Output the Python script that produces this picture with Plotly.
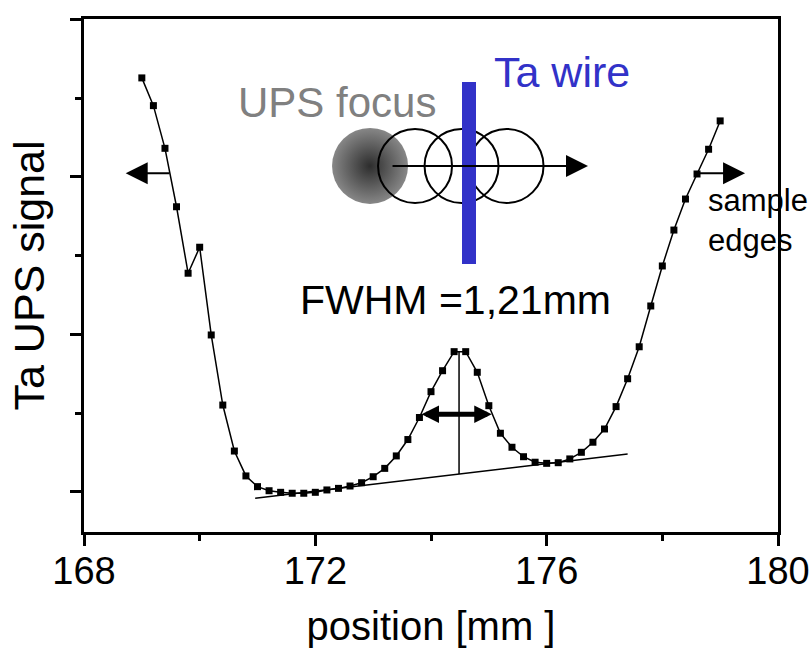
import plotly.graph_objects as go

# ---- data ----
position_mm = [169.0, 169.2, 169.4, 169.6, 169.8, 170.0, 170.2, 170.4, 170.6, 170.8,
               171.0, 171.2, 171.4, 171.6, 171.8, 172.0, 172.2, 172.4, 172.6, 172.8,
               173.0, 173.2, 173.4, 173.6, 173.8, 174.0, 174.2, 174.4, 174.6, 174.8,
               175.0, 175.2, 175.4, 175.6, 175.8, 176.0, 176.2, 176.4, 176.6, 176.8,
               177.0, 177.2, 177.4, 177.6, 177.8, 178.0, 178.2, 178.4, 178.6, 178.8,
               179.0]
ta_ups_signal = [3.629, 3.453, 3.182, 2.811, 2.389, 2.554, 1.997, 1.552, 1.260, 1.102,
                 1.034, 1.008, 0.998, 0.992, 0.992, 0.998, 1.013, 1.023, 1.038, 1.059,
                 1.097, 1.150, 1.229, 1.333, 1.473, 1.637, 1.770, 1.891, 1.891, 1.760,
                 1.548, 1.373, 1.284, 1.224, 1.189, 1.182, 1.186, 1.210, 1.252, 1.316,
                 1.400, 1.542, 1.719, 1.922, 2.181, 2.435, 2.663, 2.860, 3.019, 3.176,
                 3.356]

baseline_x = [170.96, 177.40]
baseline_y = [0.960, 1.241]
peak_line_x = [174.485, 174.485]
peak_line_y = [1.114, 1.889]
fwhm_x = [173.81, 175.05]
fwhm_y = 1.493

x_tickvals = [168, 172, 176, 180]
x_ticktext = ["168", "172", "176", "180"]

# schematic (decoration) anchors in data units
focus_center = (172.946, 3.070)
scan_circle_x = [173.724, 174.528, 175.306]
scan_circle_y = [3.070, 3.070, 3.070]
wire_x = [174.657, 174.657]
wire_y = [2.448, 3.603]
scan_arrow = (173.309, 176.715, 3.070)
left_arrow = (169.504, 168.721, 3.024)
right_arrow = (178.595, 179.430, 3.024)

FONT = "Liberation Sans, Arial, sans-serif"

fig = go.Figure()

# baseline and peak vertical line
fig.add_trace(go.Scatter(x=baseline_x, y=baseline_y, mode="lines",
                         line=dict(color="black", width=1.5), hoverinfo="skip"))
fig.add_trace(go.Scatter(x=peak_line_x, y=peak_line_y, mode="lines",
                         line=dict(color="black", width=1.5), hoverinfo="skip"))

# data
fig.add_trace(go.Scatter(x=position_mm, y=ta_ups_signal, mode="lines+markers",
                         line=dict(color="black", width=1.5),
                         marker=dict(symbol="square", size=7, color="black")))

# schematic: gradient UPS focus spot
fig.add_trace(go.Scatter(x=[focus_center[0]], y=[focus_center[1]], mode="markers",
                         marker=dict(size=76, color="rgb(135,135,135)",
                                     gradient=dict(type="radial", color="rgb(45,45,45)"),
                                     line=dict(width=0)), hoverinfo="skip"))
# scan circles
fig.add_trace(go.Scatter(x=scan_circle_x, y=scan_circle_y, mode="markers",
                         marker=dict(symbol="circle-open", size=74, color="black",
                                     line=dict(width=2, color="black")), hoverinfo="skip"))
# Ta wire
fig.add_trace(go.Scatter(x=wire_x, y=wire_y, mode="lines",
                         line=dict(color="rgb(50,50,200)", width=14), hoverinfo="skip"))

annotations = []

def arrow(x_tail, x_tip, y, width, size):
    return dict(x=x_tip, y=y, ax=x_tail, ay=y, xref="x", yref="y", axref="x", ayref="y",
                text="", showarrow=True, arrowhead=2, arrowsize=size, arrowwidth=width,
                arrowcolor="black", standoff=0, startstandoff=0)

annotations.append(arrow(scan_arrow[0], scan_arrow[1], scan_arrow[2], 2, 2.2))
annotations.append(arrow(left_arrow[0], left_arrow[1], left_arrow[2], 2, 2.2))
annotations.append(arrow(right_arrow[0], right_arrow[1], right_arrow[2], 2, 2.2))
annotations.append(dict(x=fwhm_x[1], y=fwhm_y, ax=fwhm_x[0], ay=fwhm_y, xref="x", yref="y",
                        axref="x", ayref="y", text="", showarrow=True, arrowhead=2,
                        startarrowhead=2, arrowsize=0.7, startarrowsize=0.7, arrowwidth=5,
                        arrowcolor="black", arrowside="end+start", standoff=0,
                        startstandoff=0))

annotations.append(dict(x=172.383, y=3.470, xref="x", yref="y", text="UPS focus",
                        showarrow=False, font=dict(family=FONT, size=42, color="rgb(128,128,128)")))
annotations.append(dict(x=176.266, y=3.667, xref="x", yref="y", text="Ta wire",
                        showarrow=False, font=dict(family=FONT, size=43, color="rgb(50,50,200)")))
annotations.append(dict(x=174.432, y=2.219, xref="x", yref="y", text="FWHM =1,21mm",
                        showarrow=False, font=dict(family=FONT, size=41, color="black")))
annotations.append(dict(x=178.756, y=2.721, xref="x", yref="y", text="sample<br>edges",
                        xanchor="left", align="left", showarrow=False,
                        font=dict(family=FONT, size=31, color="black")))

fig.update_layout(
    width=810, height=657,
    margin=dict(l=84, r=32, t=19, b=125),
    paper_bgcolor="white", plot_bgcolor="white",
    showlegend=False,
    annotations=annotations,
    font=dict(family=FONT, color="black"),
    xaxis=dict(range=[168, 180], tickvals=x_tickvals, ticktext=x_ticktext,
               automargin=False, ticklabelstandoff=-8,
               ticks="outside", ticklen=11, tickwidth=3, tickcolor="black",
               minor=dict(dtick=2, tick0=168, ticks="outside", ticklen=6, tickwidth=3,
                          tickcolor="black", showgrid=False),
               showline=True, linewidth=3, linecolor="black", mirror=True,
               showgrid=False, zeroline=False,
               tickfont=dict(family=FONT, size=38, color="black"),
               title=dict(text="position [mm ]", font=dict(family=FONT, size=40, color="black"),
                          standoff=22)),
    yaxis=dict(range=[0.746, 4.003], tickvals=[1, 2, 3, 4], showticklabels=False,
               automargin=False,
               ticks="outside", ticklen=11, tickwidth=3, tickcolor="black",
               minor=dict(dtick=0.5, tick0=0.5, ticks="outside", ticklen=6, tickwidth=3,
                          tickcolor="black", showgrid=False),
               showline=True, linewidth=3, linecolor="black", mirror=True,
               showgrid=False, zeroline=False,
               title=dict(text="Ta UPS signal", font=dict(family=FONT, size=43, color="black"),
                          standoff=12)),
)

fig.write_html("out.html")
